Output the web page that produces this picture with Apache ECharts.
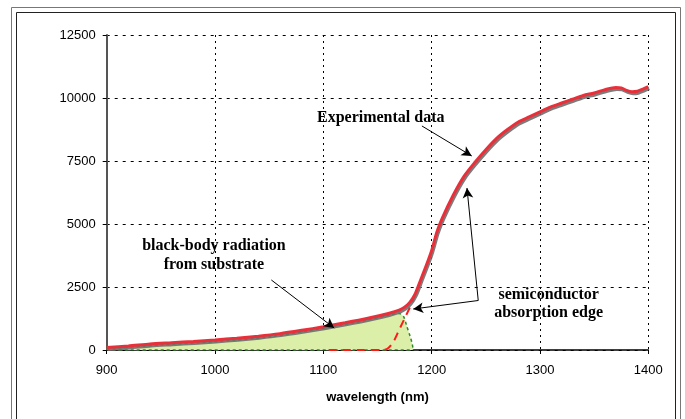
<!DOCTYPE html>
<html>
<head>
<meta charset="utf-8">
<script src="https://cdn.jsdelivr.net/npm/echarts@6/dist/echarts.min.js"></script>
<style>
html, body { margin: 0; padding: 0; background: #fff; }
#main { width: 685px; height: 419px; }
</style>
</head>
<body>
<div id="main"></div>
<script>
// experimental spectrum
var expWave  = [900, 920, 940, 960, 980, 1000, 1020, 1040, 1060, 1080, 1100, 1120, 1140, 1160, 1170, 1175, 1180, 1185, 1190, 1195, 1200, 1205, 1210, 1220, 1230, 1240, 1250, 1260, 1270, 1280, 1290, 1300, 1310, 1320, 1330, 1340, 1350, 1360, 1370, 1375, 1380, 1385, 1390, 1395, 1400];
var expValue = [100, 160, 240, 290, 340, 400, 470, 550, 650, 780, 920, 1080, 1250, 1450, 1580, 1700, 1900, 2250, 2800, 3350, 3950, 4700, 5250, 6150, 6900, 7450, 7950, 8400, 8750, 9050, 9250, 9450, 9650, 9800, 9950, 10100, 10200, 10330, 10420, 10400, 10300, 10250, 10270, 10350, 10450];

// black-body radiation from substrate
var bbWave  = [900, 950, 1000, 1050, 1100, 1140, 1160, 1170, 1174, 1177, 1180, 1182, 1183];
var bbValue = [50, 200, 330, 520, 860, 1180, 1380, 1450, 1330, 950, 560, 250, 0];

// semiconductor absorption edge
var edgeWave  = [1105, 1155, 1160, 1165, 1170, 1175, 1180, 1185];
var edgeValue = [0, 0, 80, 350, 800, 1250, 1700, 2200];

var xTicks = [900, 1000, 1100, 1200, 1300, 1400];
var yTicks = [0, 2500, 5000, 7500, 10000, 12500];

// annotation texts (anchor in data coords) and arrows [from, to]
var noteTexts = [
    {text: 'Experimental data', at: [1153, 9206]},
    {text: 'black-body radiation', at: [999, 4127]},
    {text: 'from substrate', at: [999, 3373]},
    {text: 'semiconductor', at: [1308, 2183]},
    {text: 'absorption edge', at: [1308, 1456]}
];
var noteArrows = [
    [[1191, 8890], [1237, 7700]],
    [[1052, 2778], [1110, 873]],
    [[1243, 1964], [1232.6, 6429]],
    [[1243, 1964], [1183, 1627]]
];

function pairs(xs, ys)
{
    return xs.map(function(x, i) { return [x, ys[i]]; });
}

var axisFont = {color: '#000', fontSize: 13, fontFamily: 'Liberation Sans'};
var plain    = function(v) { return String(v); };

var chart  = echarts.init(document.getElementById('main'));
var option = {
    animation: false,
    backgroundColor: '#fff',
    grid: {left: 106.7, right: 36.7, top: 35, bottom: 69},
    xAxis: {
        type: 'value',
        min: xTicks[0],
        max: xTicks[xTicks.length - 1],
        interval: 100,
        name: 'wavelength (nm)',
        nameLocation: 'middle',
        nameGap: 41,
        nameTextStyle: {color: '#000', fontSize: 13, fontWeight: 'bold', fontFamily: 'Liberation Sans'},
        axisLine: {lineStyle: {color: '#000', width: 1.5}},
        axisTick: {show: true, length: 4, lineStyle: {color: '#000'}},
        axisLabel: Object.assign({margin: 14, formatter: plain}, axisFont),
        splitLine: {show: true, lineStyle: {color: '#000', type: [2, 4], width: 1}}
    },
    yAxis: {
        type: 'value',
        min: yTicks[0],
        max: yTicks[yTicks.length - 1],
        interval: 2500,
        axisLine: {show: true, lineStyle: {color: '#555', width: 2}},
        axisTick: {show: true, length: 4, lineStyle: {color: '#000'}},
        axisLabel: Object.assign({margin: 11, formatter: plain}, axisFont),
        splitLine: {show: true, lineStyle: {color: '#000', type: [3, 5], width: 1}}
    },
    series: [
        {
            name: 'black-body',
            type: 'line',
            data: pairs(bbWave, bbValue),
            smooth: 0.3,
            symbol: 'none',
            lineStyle: {color: '#2a8a2a', width: 1.5, type: [3, 3]},
            areaStyle: {color: '#dcefa8', opacity: 1},
            z: 1
        },
        {
            name: 'black-body base',
            type: 'line',
            data: [[bbWave[0], 0], [bbWave[bbWave.length - 1], 0]],
            symbol: 'none',
            lineStyle: {color: '#2a8a2a', width: 1.5, type: [3, 3]},
            z: 2
        },
        {
            name: 'edge',
            type: 'line',
            data: pairs(edgeWave, edgeValue),
            smooth: 0.3,
            symbol: 'none',
            lineStyle: {color: '#ff1a1a', width: 2, type: [8, 6]},
            z: 3
        },
        {
            name: 'experimental',
            type: 'line',
            data: pairs(expWave, expValue),
            smooth: 0.25,
            symbol: 'none',
            lineStyle: {
                color: '#e8303a',
                width: 3,
                shadowColor: 'rgba(110,110,110,0.9)',
                shadowBlur: 0,
                shadowOffsetX: 1,
                shadowOffsetY: 2
            },
            markLine: {
                silent: true,
                symbol: ['none', 'arrow'],
                symbolSize: [8, 10],
                label: {show: false},
                lineStyle: {color: '#000', width: 1, type: 'solid'},
                data: noteArrows.map(function(a)
                {
                    return [{coord: a[0]}, {coord: a[1]}];
                })
            },
            z: 4
        }
    ]
};
chart.setOption(option);

var graphics = [
    {type: 'rect', shape: {x: 11.5, y: 7.5, width: 669, height: 420}, style: {fill: null, stroke: '#777', lineWidth: 1}, silent: true},
    {type: 'rect', shape: {x: 16.5, y: 12.5, width: 659, height: 420}, style: {fill: null, stroke: '#222', lineWidth: 1}, silent: true}
];
noteTexts.forEach(function(n)
{
    var p = chart.convertToPixel({gridIndex: 0}, n.at);
    graphics.push({
        type: 'text',
        x: p[0],
        y: p[1],
        silent: true,
        z: 10,
        style: {
            text: n.text,
            fill: '#000',
            font: 'bold 16px "Liberation Serif"',
            align: 'center',
            verticalAlign: 'middle'
        }
    });
});
chart.setOption({graphic: graphics});
</script>
</body>
</html>
